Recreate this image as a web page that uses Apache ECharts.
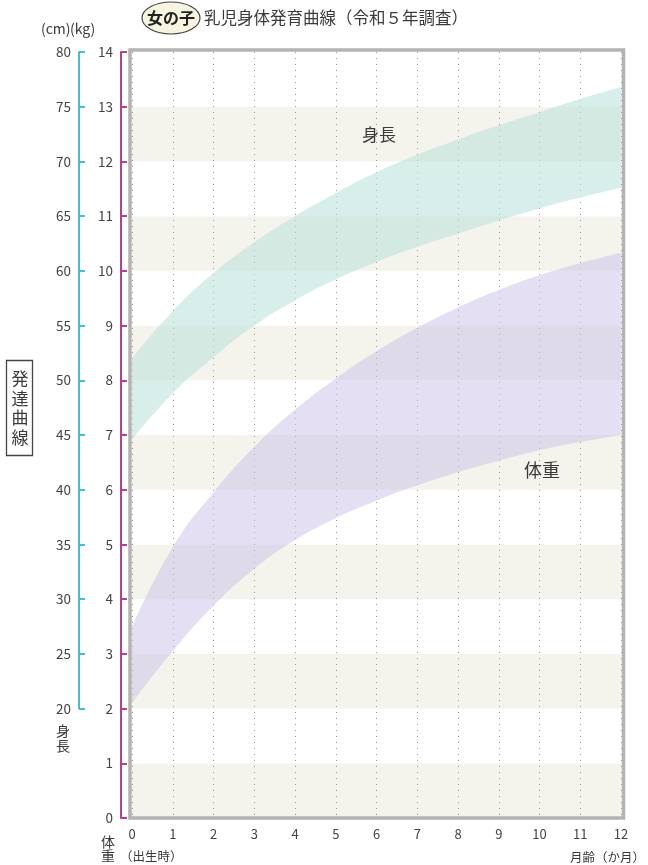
<!DOCTYPE html>
<html><head><meta charset="utf-8">
<script src="https://cdn.jsdelivr.net/npm/echarts@6/dist/echarts.min.js"></script>
<style>html,body{margin:0;padding:0;background:#fff}#c{width:648px;height:865px}</style>
</head><body><div id="c"></div>
<script>
// months (x axis categories / tick labels)
const monthLabels = ['0', '1', '2', '3', '4', '5', '6', '7', '8', '9', '10', '11', '12'];
// 身長 (cm) band: lower / upper edges
const heightLower = [44.6, 48.8, 52.1, 55.0, 57.3, 59.2, 60.8, 62.2, 63.4, 64.6, 65.7, 66.7, 67.6];
const heightUpper = [52.0, 56.3, 59.8, 62.6, 65.0, 67.1, 69.0, 70.6, 72.0, 73.3, 74.5, 75.7, 76.8];
// 体重 (kg) band
const weightLower = [2.10, 3.05, 3.88, 4.55, 5.08, 5.48, 5.80, 6.08, 6.32, 6.53, 6.72, 6.87, 7.00];
const weightUpper = [3.50, 4.95, 5.95, 6.78, 7.46, 8.03, 8.53, 8.96, 9.33, 9.65, 9.92, 10.14, 10.33];

const FONT = '"Noto Sans CJK JP", "Noto Sans", sans-serif';
const MAGENTA = '#b4418e';
const CYAN = '#4bbccd';
const TXT = '#3a3a3a';

const chart = echarts.init(document.getElementById('c'), null, {renderer: 'canvas'});

function spans(lo, hi) { return hi.map((v, i) => v - lo[i]); }

const option = {
  animation: false,
  textStyle: {fontFamily: FONT},
  grid: [
    {left: 132, right: 27, top: 52, bottom: 47},
    {left: 132, right: 27, top: 52, bottom: 156.43}
  ],
  xAxis: [
    {
      gridIndex: 0, type: 'category', data: monthLabels, boundaryGap: false,
      axisLine: {show: false}, axisTick: {show: false},
      axisLabel: {color: '#444', fontSize: 13, margin: 10, fontFamily: FONT, interval: 0},
      splitLine: {show: true, interval: 0, lineStyle: {type: [1, 5], color: '#999999', width: 1}}
    },
    {gridIndex: 1, type: 'category', data: monthLabels, boundaryGap: false, show: false}
  ],
  yAxis: [
    {
      gridIndex: 0, type: 'value', min: 0, max: 14, interval: 1, position: 'left', offset: 11,
      axisLine: {show: true, onZero: false, lineStyle: {color: MAGENTA, width: 2}},
      axisTick: {show: true, inside: true, length: 6, lineStyle: {color: MAGENTA, width: 2}},
      axisLabel: {color: '#444', fontSize: 13.5, margin: 8, fontFamily: FONT},
      splitLine: {show: false},
      splitArea: {show: true, areaStyle: {color: ['#f4f3ec', '#ffffff']}}
    },
    {
      gridIndex: 1, type: 'value', min: 20, max: 80, interval: 5, position: 'left', offset: 53,
      axisLine: {show: true, onZero: false, lineStyle: {color: CYAN, width: 2}},
      axisTick: {show: true, inside: true, length: 6, lineStyle: {color: CYAN, width: 2}},
      axisLabel: {color: '#444', fontSize: 13.5, margin: 8, fontFamily: FONT},
      splitLine: {show: false}
    }
  ],
  series: [
    {
      name: 'wLow', type: 'line', xAxisIndex: 0, yAxisIndex: 0, stack: 'w', smooth: 0.5,
      symbol: 'none', silent: true, lineStyle: {opacity: 0},
      data: weightLower
    },
    {
      name: '体重', type: 'line', xAxisIndex: 0, yAxisIndex: 0, stack: 'w', smooth: 0.5,
      symbol: 'none', silent: true, lineStyle: {opacity: 0},
      areaStyle: {color: '#cdc4ea', opacity: 0.55},
      data: spans(weightLower, weightUpper)
    },
    {
      name: 'hLow', type: 'line', xAxisIndex: 1, yAxisIndex: 1, stack: 'h', smooth: 0.5,
      symbol: 'none', silent: true, lineStyle: {opacity: 0},
      data: heightLower
    },
    {
      name: '身長', type: 'line', xAxisIndex: 1, yAxisIndex: 1, stack: 'h', smooth: 0.5,
      symbol: 'none', silent: true, lineStyle: {opacity: 0},
      areaStyle: {color: '#bde2dc', opacity: 0.6},
      data: spans(heightLower, heightUpper)
    }
  ],
  graphic: [
    {type: 'rect', z: 100, shape: {x: 130, y: 50, width: 493.5, height: 768},
     style: {fill: 'none', stroke: '#b3b3b3', lineWidth: 3.5}},
    {type: 'ellipse', z: 100, shape: {cx: 171, cy: 18, rx: 29, ry: 16},
     style: {fill: '#f7f4df', stroke: '#444', lineWidth: 1.2}},
    {type: 'text', z: 101, x: 171, y: 18,
     style: {text: '女の子', fontSize: 16, fontWeight: 'bold', fontFamily: FONT, fill: '#222', align: 'center', verticalAlign: 'middle'}},
    {type: 'text', z: 101, x: 204, y: 18,
     style: {text: '乳児身体発育曲線（令和５年調査）', fontSize: 16.5, fontFamily: FONT, fill: TXT, align: 'left', verticalAlign: 'middle'}},
    {type: 'text', z: 101, x: 41, y: 29,
     style: {text: '(cm)', fontSize: 14, fontFamily: FONT, fill: TXT, align: 'left', verticalAlign: 'middle'}},
    {type: 'text', z: 101, x: 70, y: 29,
     style: {text: '(kg)', fontSize: 14, fontFamily: FONT, fill: TXT, align: 'left', verticalAlign: 'middle'}},
    {type: 'text', z: 101, x: 63, y: 738,
     style: {text: '身\n長', fontSize: 14, lineHeight: 15, fontFamily: FONT, fill: TXT, align: 'center', verticalAlign: 'middle'}},
    {type: 'text', z: 101, x: 108, y: 849,
     style: {text: '体\n重', fontSize: 14, lineHeight: 14, fontFamily: FONT, fill: TXT, align: 'center', verticalAlign: 'middle'}},
    {type: 'text', z: 101, x: 120, y: 856,
     style: {text: '（出生時）', fontSize: 12.5, fontFamily: FONT, fill: TXT, align: 'left', verticalAlign: 'middle'}},
    {type: 'text', z: 101, x: 645, y: 857,
     style: {text: '月齢（か月）', fontSize: 12.5, fontFamily: FONT, fill: TXT, align: 'right', verticalAlign: 'middle'}},
    {type: 'rect', z: 100, shape: {x: 6.5, y: 360.5, width: 26, height: 95},
     style: {fill: '#fff', stroke: '#444', lineWidth: 1.3}},
    {type: 'text', z: 101, x: 20, y: 408,
     style: {text: '発\n達\n曲\n線', fontSize: 17, lineHeight: 19.5, fontFamily: FONT, fill: TXT, align: 'center', verticalAlign: 'middle'}},
    {type: 'text', z: 101, x: 379, y: 135,
     style: {text: '身長', fontSize: 17, fontFamily: FONT, fill: TXT, align: 'center', verticalAlign: 'middle'}},
    {type: 'text', z: 101, x: 542, y: 470,
     style: {text: '体重', fontSize: 18, fontFamily: FONT, fill: TXT, align: 'center', verticalAlign: 'middle'}}
  ]
};
chart.setOption(option);
</script>
</body></html>
